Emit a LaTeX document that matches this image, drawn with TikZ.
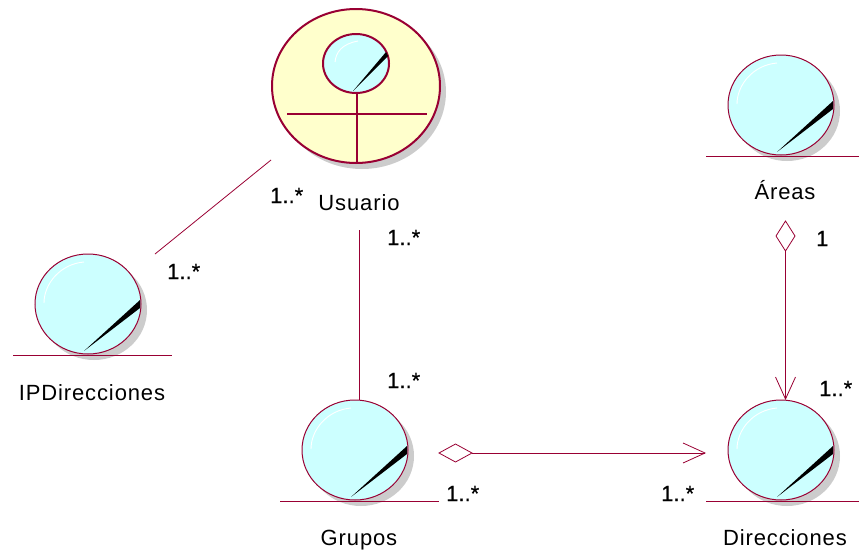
\documentclass[tikz,border=0pt]{standalone}
\usepackage{fontspec}
\setmainfont{Liberation Sans}
\newfontfamily\lblfont[LetterSpace=4]{Liberation Sans}
\newfontfamily\multfont[FakeBold=0.5]{Liberation Sans}
\usetikzlibrary{arrows.meta}
\definecolor{umlred}{RGB}{153,0,51}
\definecolor{cyanfill}{RGB}{204,255,255}
\definecolor{actorfill}{RGB}{255,255,204}
\definecolor{shadowgray}{RGB}{204,204,204}
\tikzset{
  x=1pt,y=-1pt,
  conn/.style={draw=umlred,line width=0.8pt},
  base/.style={draw=umlred,line width=1pt},
  ball/.style={draw=umlred,line width=1pt,fill=cyanfill},
  lbl/.style={font=\fontsize{22}{24}\selectfont\lblfont,text=black,inner sep=0pt,anchor=base},
  mult/.style={font=\fontsize{22}{24}\selectfont\multfont,text=black,inner sep=0pt,anchor=base west},
  diam/.style={draw=umlred,line width=0.8pt,fill=white},
  openhead/.style={-{Straight Barb[length=22pt,width=20pt,line width=0.8pt]}},
}
% entity: name, cx, cy, line left, line right
\newcommand{\entity}[5]{
  \fill[shadowgray] (#2+6,#3+6) ellipse [x radius=53,y radius=50];
  \draw[ball] (#2,#3) ellipse [x radius=53,y radius=50];
  \coordinate (#1) at (#2,#3);
  \draw[white,line width=0.9pt] (#2-44,#3-1) .. controls (#2-44,#3-20) and (#2-28,#3-40) .. (#2-4,#3-42);
  \fill[black] (#2-4,#3+47) -- (#2+52,#3-4) -- (#2+52,#3+4) -- cycle;
  \coordinate (#1L) at (#4,#3+51);
  \coordinate (#1R) at (#5,#3+51);
  \draw[base] (#1L) -- (#1R);
}
\begin{document}
\begin{tikzpicture}
\useasboundingbox (0,0) rectangle (859,549);
% Usuario actor
\fill[shadowgray] (362,92) ellipse [x radius=84,y radius=77];
\draw[draw=umlred,line width=2pt,fill=actorfill] (356,86) ellipse [x radius=84,y radius=77];
\draw[draw=umlred,line width=2pt,fill=cyanfill] (356,63.5) ellipse [x radius=33,y radius=29.5];
\draw[white,line width=0.9pt] (335,62) .. controls (336,52) and (342,44) .. (358,41);
\fill[black] (353,91) -- (386,52) -- (388,56) -- cycle;
\coordinate (hL) at (287,114);
\coordinate (hR) at (427,114);
\coordinate (vT) at (357,93);
\coordinate (vB) at (357,163);
\draw[draw=umlred,line width=2pt] (hL) -- (hR) (vT) -- (vB);
% entities
\entity{ip}{88}{304}{13}{172}
\entity{gr}{355}{450}{280}{439}
\entity{ar}{781}{105}{706}{859}
\entity{di}{781}{450}{706}{859}
% connector end points
\coordinate (uA) at (271,160);
\coordinate (ipA) at (155,254);
\coordinate (uB) at (359,230);
\coordinate (grB) at (359,400);
\coordinate (arC) at (785.5,251);
\coordinate (diC) at (785.5,400);
\coordinate (grD) at (472,453);
\coordinate (diD) at (706,453);
\draw[conn] (uA) -- (ipA);
\draw[conn] (uB) -- (grB);
\draw[conn,openhead] (arC) -- (diC);
\draw[conn,openhead] (grD) -- (diD);
% diamonds
\draw[diam] (785.5,221) -- (795,236) -- (arC) -- (776,236) -- cycle;
\draw[diam] (439,453) -- (455.5,444) -- (grD) -- (455.5,462) -- cycle;
% labels
\node[lbl] (tu) at (359,210) {Usuario};
\node[lbl] (tip) at (92,400) {IPDirecciones};
\node[lbl] (tgr) at (359,545) {Grupos};
\node[lbl] (tar) at (785,199) {Áreas};
\node[lbl] (tdi) at (785,545) {Direcciones};
\node[mult] (m1) at (270,203) {1..*};
\node[mult] (m2) at (167,279) {1..*};
\node[mult] (m3) at (387,245) {1..*};
\node[mult] (m4) at (387,388) {1..*};
\node[mult] (m5) at (446,501) {1..*};
\node[mult] (m6) at (661,501) {1..*};
\node[mult] (m7) at (819,396) {1..*};
\node[mult] (m8) at (816,246) {1};
\end{tikzpicture}
\end{document}
